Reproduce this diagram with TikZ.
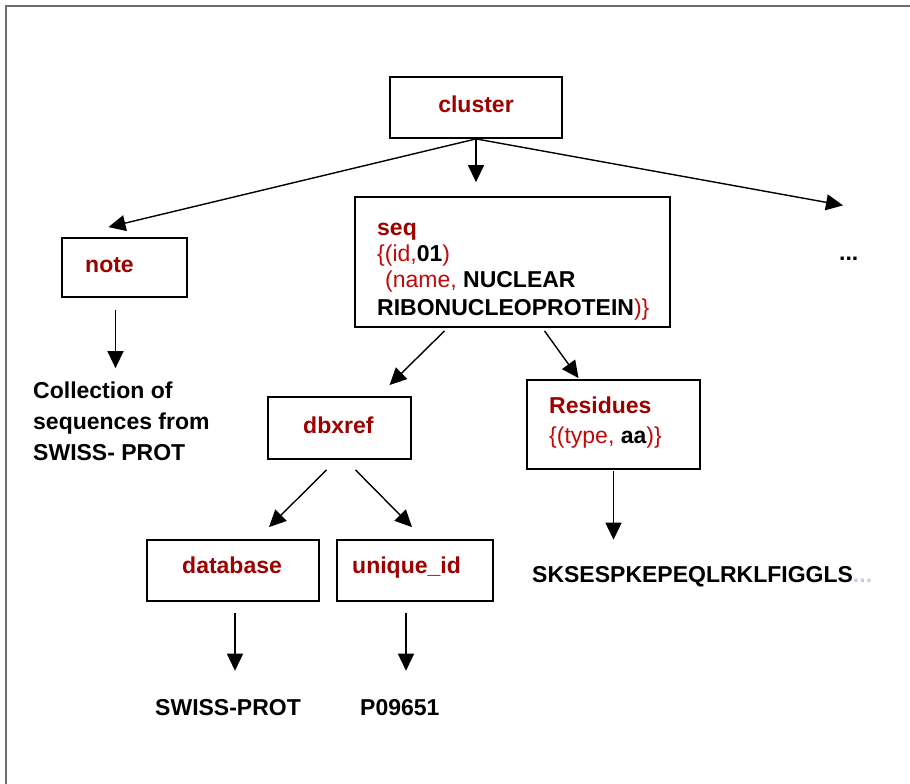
\documentclass[tikz,border=0pt]{standalone}
\usepackage{fontspec}
\setmainfont{Liberation Sans}
\usetikzlibrary{arrows.meta,calc}
\definecolor{tagred}{RGB}{158,0,0}
\definecolor{attrred}{RGB}{190,10,10}
\definecolor{fadeblue}{RGB}{200,200,240}
\definecolor{framegray}{RGB}{110,110,110}
% attribute text: regular weight, red
\newcommand\attrtext[1]{{\mdseries\color{attrred}#1}}
\begin{document}
\begin{tikzpicture}[x=1pt,y=-1pt,
  box/.style={draw=black, line width=1.8pt, inner sep=0pt},
  conn/.style={line width=1.4pt, -{Triangle[length=17pt,width=16pt]}},
  txt/.style={anchor=base west, inner sep=0pt, font=\fontsize{23}{28}\selectfont\bfseries},
  tag/.style={txt, text=tagred}
]
\useasboundingbox (0,0) rectangle (910,784);
% outer frame (top and left edges)
\draw[framegray, line width=2pt] (6,784) -- (6,6) -- (910,6);

% boxes
\node[box, minimum width=172pt, minimum height=61pt] (cluster)  at (476,107.5) {};
\node[box, minimum width=315pt, minimum height=130pt] (seq)     at (512.5,262) {};
\node[box, minimum width=125pt, minimum height=59pt] (note)     at (124.5,267.5) {};
\node[box, minimum width=143pt, minimum height=62pt] (dbxref)   at (339.5,428) {};
\node[box, minimum width=173pt, minimum height=89pt] (residues) at (613.5,424.5) {};
\node[box, minimum width=172pt, minimum height=61pt] (database) at (233,570.5) {};
\node[box, minimum width=156pt, minimum height=61pt] (uniqueid) at (415,570.5) {};

% box labels
\node[tag, anchor=base] (clusterT) at (476,112) {cluster};
\node[tag] (noteT) at (85,272) {note};
\node[tag] (dbxrefT) at (303,433) {dbxref};
\node[tag] (databaseT) at (182,573) {database};
\node[tag] (uniqueidT) at (352,573) {unique\_id};

\node[tag] (seqA) at (377,235) {seq};
\node[txt] (seqB) at (377,261) {\attrtext{\{(id,}01\attrtext{)}};
\node[txt] (seqC) at (385,287) {\attrtext{(name, }NUCLEAR};
\node[txt] (seqD) at (377,315) {RIBONUCLEOPROTEIN\attrtext{)\}}};

\node[tag] (resA) at (549,413) {Residues};
\node[txt] (resB) at (549,443) {\attrtext{\{(type, }aa\attrtext{)\}}};

% leaf texts
\node[txt] (coll1) at (33,398) {Collection of};
\node[txt] (coll2) at (33,429) {sequences from};
\node[txt] (coll3) at (33,460) {SWISS- PROT};
\node[txt] (seqstr) at (532,582) {SKSESPKEPEQLRKLFIGGLS{\color{fadeblue}...}};
\node[txt] (dbname) at (155,715) {SWISS-PROT};
\node[txt] (acc) at (360,715) {P09651};
\node[txt] (more) at (839,260) {...};

% connectors
\draw[conn] (cluster.south) -- ($(note.north)+(-16,-10)$);
\draw[conn] (cluster.south) -- ($(cluster.south |- seq.north)+(0,-14)$);
\draw[conn] (cluster.south) -- ($(more.north west)+(4,-51)$);
\draw[conn] ($(note.south)+(-9,12)$) -- ($(note.south |- coll1.north)+(-9,-13)$);
\draw[conn] ($(seq.south)+(-68,3)$) -- ($(dbxref.north)+(50,-11)$);
\draw[conn] ($(seq.south)+(32,3)$) -- ($(residues.north)+(-35,-1)$);
\draw[conn] ($(dbxref.south)+(-13,10)$) -- ($(database.north)+(36,-12)$);
\draw[conn] ($(dbxref.south)+(16,10)$) -- ($(uniqueid.north)+(-3,-12)$);
\draw[conn] ($(residues.south)+(0,1)$) -- ($(residues.south |- seqstr.north)+(0,-26)$);
\draw[conn] ($(database.south)+(2,11)$) -- ($(database.south |- dbname.north)+(2,-28)$);
\draw[conn] ($(uniqueid.south)+(-9,11)$) -- ($(uniqueid.south |- acc.north)+(-9,-28)$);
\end{tikzpicture}
\end{document}
